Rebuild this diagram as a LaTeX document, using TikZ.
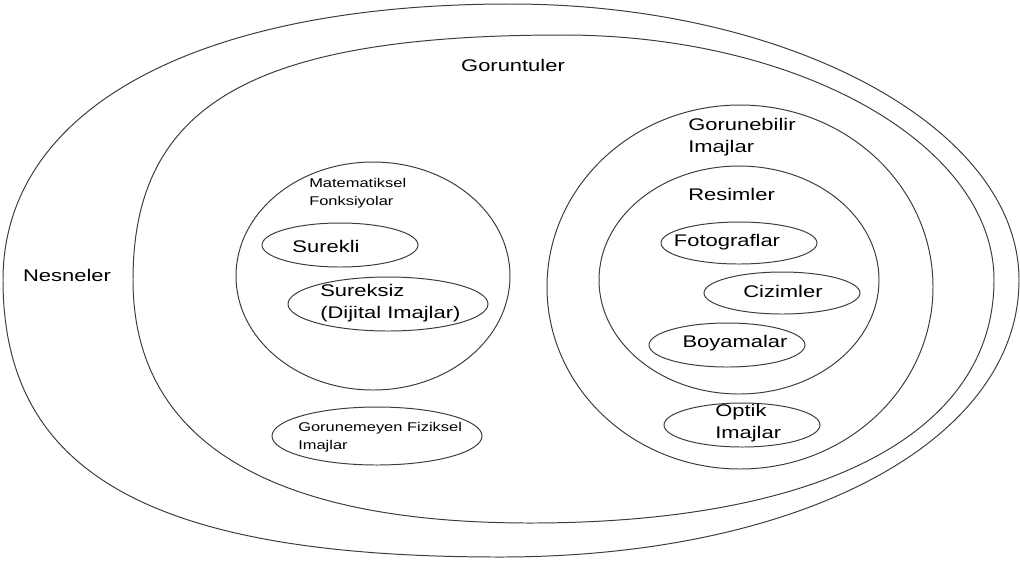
\documentclass[tikz,border=0pt]{standalone}
\usepackage{fontspec}
\setmainfont{Liberation Sans}
\newfontfamily\lblfont[FakeStretch=1.3]{Liberation Sans}
\usepackage{tikz}
\usepackage{xcolor}
\definecolor{setgray}{RGB}{60,60,60}

\begin{document}
\begin{tikzpicture}[x=0.025cm, y=-0.025cm,
    set/.style={draw=setgray, line width=0.7pt},
    big/.style={font=\lblfont\fontsize{12}{15.5}\selectfont, inner sep=0pt, align=left},
    small/.style={font=\lblfont\fontsize{9}{12.5}\selectfont, inner sep=0pt, align=left}]
  \useasboundingbox (0,0) rectangle (1020,562);
  % Nesneler
  \draw[set] (1019,280) .. controls (1019,128) and (790,4) .. (510,4)
    .. controls (196,4) and (3,109) .. (3,280)
    .. controls (3,474) and (152,557) .. (500,557)
    .. controls (801,557) and (1019,441) .. cycle;
  % Goruntuler
  \draw[set] (994,280) .. controls (994,145) and (800,35) .. (563,35)
    .. controls (253,35) and (133,104) .. (133,280)
    .. controls (133,440) and (268,523) .. (530,523)
    .. controls (822,523) and (994,433) .. cycle;
  % left group
  \draw[set] (373,276) ellipse [x radius=137, y radius=114];
  \draw[set] (340,245) ellipse [x radius=78, y radius=22];
  \draw[set] (388,304) ellipse [x radius=100, y radius=27];
  \draw[set] (377,436) ellipse [x radius=105, y radius=29];
  % right group
  \draw[set] (740,287) ellipse [x radius=193, y radius=182];
  \draw[set] (739,280) ellipse [x radius=140, y radius=114];
  \draw[set] (739,243) ellipse [x radius=78, y radius=21];
  \draw[set] (782,293) ellipse [x radius=78, y radius=21];
  \draw[set] (727,345) ellipse [x radius=78, y radius=22];
  \draw[set] (742,425) ellipse [x radius=78, y radius=22];

  \node[big] (nesneler) at (67,275) {Nesneler};
  \node[big] (goruntuler) at (513,65) {Goruntuler};
  \node[small, anchor=west] (matfonk) at (309,193) {Matematiksel\\Fonksiyolar};
  \node[big] (surekli) at (326,246) {Surekli};
  \node[big, anchor=west] (sureksiz) at (320,303) {Sureksiz\\(Dijital Imajlar)};
  \node[small, anchor=west] (gorunemeyen) at (298,437) {Gorunemeyen Fiziksel\\Imajlar};
  \node[big, anchor=west] (gorunebilir) at (688,137) {Gorunebilir\\Imajlar};
  \node[big, anchor=west] (resimler) at (688,194) {Resimler};
  \node[big] (fotograflar) at (727,242) {Fotograflar};
  \node[big] (cizimler) at (783,291) {Cizimler};
  \node[big] (boyamalar) at (735,343) {Boyamalar};
  \node[big, anchor=west] (optik) at (715,423) {Optik\\Imajlar};
\end{tikzpicture}
\end{document}
